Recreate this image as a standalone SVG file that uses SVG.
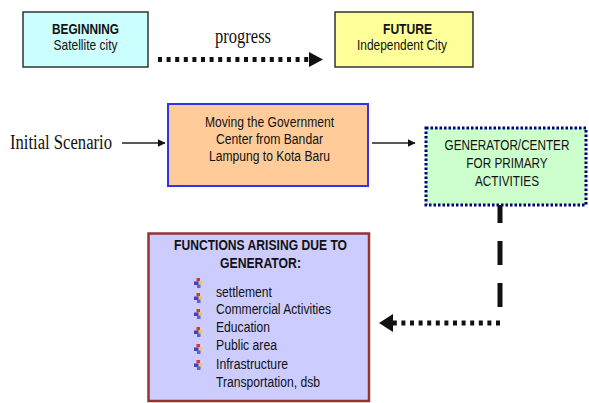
<svg xmlns="http://www.w3.org/2000/svg" width="589" height="403" viewBox="0 0 589 403">
<style>
.sans{font-family:"Liberation Sans",Arial,sans-serif;font-size:14px;fill:#111}
.big{font-size:15px}
.b{font-weight:bold}
.serif{font-family:"Liberation Serif","Times New Roman",serif;font-size:20px;fill:#111}
.thin{stroke:#222;stroke-width:1.5;fill:none}
.dots{stroke:#111;stroke-width:5;fill:none;stroke-dasharray:4 4.6}
</style>
<defs>
<marker id="ah" markerWidth="8" markerHeight="8" refX="7.5" refY="4" orient="auto" markerUnits="userSpaceOnUse">
<path d="M0,0 L8,4 L0,8 Z" fill="#111"/>
</marker>
<g id="bul">
<rect x="-1.5" y="-5" width="3.5" height="3.5" fill="#e03030"/>
<rect x="0.5" y="-2" width="3.5" height="3.5" fill="#f0d020"/>
<rect x="-4" y="-1.5" width="4.5" height="3.5" fill="#4040c0"/>
<rect x="-1" y="1.5" width="3.5" height="3.5" fill="#6060d0"/>
</g>
</defs>

<g id="beginning">
<rect x="23" y="12" width="125" height="55" fill="#CCFFFF" stroke="#333" stroke-width="1.5"/>
<text class="sans big b" x="85.5" y="34" text-anchor="middle" textLength="67" lengthAdjust="spacingAndGlyphs">BEGINNING</text>
<text class="sans big" x="85.5" y="50" text-anchor="middle" textLength="64" lengthAdjust="spacingAndGlyphs">Satellite city</text>
</g>

<g id="future">
<rect x="335" y="12" width="138" height="55" fill="#FFFF99" stroke="#333" stroke-width="1.5"/>
<text class="sans big b" x="407.5" y="34" text-anchor="middle" textLength="49" lengthAdjust="spacingAndGlyphs">FUTURE</text>
<text class="sans big" x="402" y="50" text-anchor="middle" textLength="90" lengthAdjust="spacingAndGlyphs">Independent City</text>
</g>

<g id="progress-label">
<text class="serif" x="243" y="43" text-anchor="middle" textLength="56" lengthAdjust="spacingAndGlyphs">progress</text>
</g>

<g id="initial-label">
<text class="serif" x="10" y="149" textLength="102" lengthAdjust="spacingAndGlyphs">Initial Scenario</text>
</g>

<g id="moving">
<rect x="168" y="104" width="200" height="82" fill="#FFCC99" stroke="#3333EE" stroke-width="2"/>
<text class="sans" x="269.5" y="127" text-anchor="middle" textLength="129" lengthAdjust="spacingAndGlyphs">Moving the Government</text>
<text class="sans" x="269.5" y="144" text-anchor="middle" textLength="107" lengthAdjust="spacingAndGlyphs">Center from Bandar</text>
<text class="sans" x="269.5" y="161" text-anchor="middle" textLength="121" lengthAdjust="spacingAndGlyphs">Lampung to Kota Baru</text>
</g>

<g id="generator">
<rect x="426" y="128" width="160" height="77" fill="#CCFFCC" stroke="#000080" stroke-width="3" stroke-dasharray="2.5 2"/>
<g transform="translate(507,0) scale(0.84,1)">
<text class="sans" x="0" y="150" text-anchor="middle">GENERATOR/CENTER</text>
<text class="sans" x="0" y="168" text-anchor="middle">FOR PRIMARY</text>
<text class="sans" x="0" y="186" text-anchor="middle">ACTIVITIES</text>
</g>
</g>

<g id="functions">
<rect x="148.5" y="233.5" width="220.5" height="167.5" fill="#CCCCFF" stroke="#993333" stroke-width="2.5"/>
<text class="sans b" x="260.5" y="250" text-anchor="middle" textLength="173" lengthAdjust="spacingAndGlyphs">FUNCTIONS ARISING DUE TO</text>
<text class="sans b" x="260.5" y="268" text-anchor="middle" textLength="81" lengthAdjust="spacingAndGlyphs">GENERATOR:</text>
<use href="#bul" x="198" y="283"/>
<use href="#bul" x="198" y="298"/>
<use href="#bul" x="198" y="314"/>
<use href="#bul" x="198" y="332"/>
<use href="#bul" x="198" y="349"/>
<use href="#bul" x="198" y="365"/>
<text class="sans" x="216" y="297" textLength="56" lengthAdjust="spacingAndGlyphs">settlement</text>
<text class="sans" x="216" y="314" textLength="115" lengthAdjust="spacingAndGlyphs">Commercial Activities</text>
<text class="sans" x="216" y="332" textLength="54" lengthAdjust="spacingAndGlyphs">Education</text>
<text class="sans" x="216" y="350" textLength="61" lengthAdjust="spacingAndGlyphs">Public area</text>
<text class="sans" x="216" y="369" textLength="72" lengthAdjust="spacingAndGlyphs">Infrastructure</text>
<text class="sans" x="216" y="387" textLength="104" lengthAdjust="spacingAndGlyphs">Transportation, dsb</text>
</g>

<g id="connectors">
<line class="dots" x1="158" y1="59.5" x2="310" y2="59.5"/>
<path d="M309,52 L323,59.5 L309,67 Z" fill="#111"/>
<line class="thin" x1="122" y1="143" x2="165" y2="143" marker-end="url(#ah)"/>
<line class="thin" x1="372" y1="143" x2="415" y2="143" marker-end="url(#ah)"/>
<line x1="500" y1="307" x2="500" y2="205" stroke="#111" stroke-width="5" stroke-dasharray="24 18"/>
<line class="dots" x1="500" y1="323" x2="392" y2="323" stroke-width="5.5"/>
<path d="M393,314 L379,323 L393,332 Z" fill="#111"/>
</g>
</svg>
